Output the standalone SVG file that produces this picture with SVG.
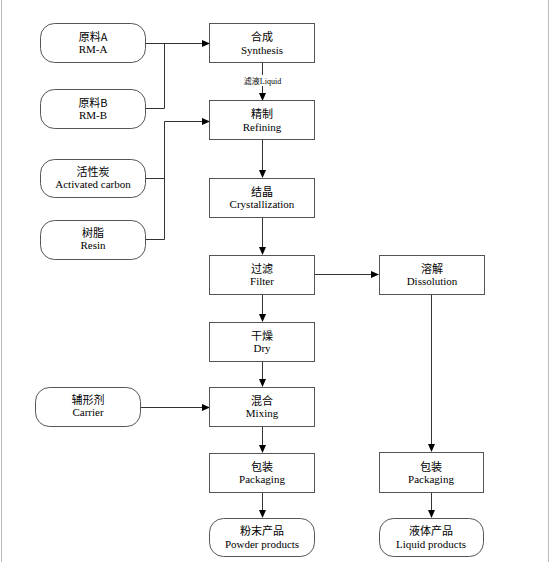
<svg xmlns="http://www.w3.org/2000/svg" width="550" height="562" viewBox="0 0 550 562">
<defs>
<marker id="ah" markerWidth="8" markerHeight="8" refX="7" refY="4" orient="auto" markerUnits="userSpaceOnUse">
<path d="M0,0.5 L8,4 L0,7.5 Z" fill="#000"/>
</marker>
</defs>
<style>
.box{fill:#fff;stroke:#555;stroke-width:1}
.t{font-family:'Liberation Serif','Noto Sans CJK SC',serif;font-size:11px;fill:#000;text-anchor:middle}
.zh{font-family:'Noto Sans CJK SC','Liberation Serif',serif;font-size:11px;fill:#000;text-anchor:middle}
.lb{font-family:'Liberation Serif','Noto Sans CJK SC',serif;font-size:8px;fill:#000;text-anchor:middle}
.c{fill:none;stroke:#333;stroke-width:1}
.a{fill:none;stroke:#333;stroke-width:1;marker-end:url(#ah)}
</style>
<rect x="0" y="0" width="550" height="562" fill="#fff"/>
<line x1="1.5" y1="0" x2="1.5" y2="562" stroke="#bbb"/>
<line x1="548.5" y1="0" x2="548.5" y2="562" stroke="#bbb"/>

<g id="connectors">
<path class="a" d="M145.5,43.5 H209"/>
<path class="c" d="M145.5,108.5 H164.5 V43.5"/>
<path class="a" d="M262.5,62.5 V100"/>
<path class="a" d="M164.5,121.5 H209"/>
<path class="c" d="M145.5,178.5 H164.5"/>
<path class="c" d="M145.5,239.5 H164.5 V121.5"/>
<path class="a" d="M262.5,139.5 V177"/>
<path class="a" d="M262.5,217.5 V254"/>
<path class="a" d="M314.5,274.5 H378"/>
<path class="a" d="M262.5,294.5 V321"/>
<path class="a" d="M262.5,361.5 V386"/>
<path class="a" d="M140.5,407.5 H209"/>
<path class="a" d="M262.5,426.5 V452"/>
<path class="a" d="M262.5,492.5 V517"/>
<path class="a" d="M431.5,294.5 V451"/>
<path class="a" d="M431.5,492.5 V517"/>
<rect x="243" y="75" width="39" height="11" fill="#fff"/>
<text class="lb" x="262.5" y="83.5">滤液Liquid</text>
</g>

<g id="rmA">
<rect class="box" x="40.5" y="23.5" width="105" height="39" rx="14"/>
<text class="zh" x="93" y="40.5">原料A</text>
<text class="t" x="93" y="53">RM-A</text>
</g>
<g id="rmB">
<rect class="box" x="40.5" y="89.5" width="105" height="39" rx="14"/>
<text class="zh" x="93" y="106.5" font-size="10">原料B</text>
<text class="t" x="93" y="118.5" font-size="10">RM-B</text>
</g>
<g id="carbon">
<rect class="box" x="40.5" y="159.5" width="105" height="38" rx="14"/>
<text class="zh" x="93" y="175.5">活性炭</text>
<text class="t" x="93" y="188">Activated carbon</text>
</g>
<g id="resin">
<rect class="box" x="40.5" y="220.5" width="105" height="39" rx="14"/>
<text class="zh" x="93" y="236.5" font-size="10">树脂</text>
<text class="t" x="93" y="248.5" font-size="10">Resin</text>
</g>
<g id="carrier">
<rect class="box" x="35.5" y="387.5" width="105" height="39" rx="14"/>
<text class="zh" x="88" y="403.5">辅形剂</text>
<text class="t" x="88" y="416">Carrier</text>
</g>

<g id="synthesis">
<rect class="box" x="209.5" y="23.5" width="105" height="39"/>
<text class="zh" x="262" y="41" font-size="12">合成</text>
<text class="t" x="262" y="54" font-size="12">Synthesis</text>
</g>
<g id="refining">
<rect class="box" x="209.5" y="100.5" width="105" height="39"/>
<text class="zh" x="262" y="118" font-size="12">精制</text>
<text class="t" x="262" y="131">Refining</text>
</g>
<g id="crystallization">
<rect class="box" x="209.5" y="178.5" width="105" height="39"/>
<text class="zh" x="262" y="195.5">结晶</text>
<text class="t" x="262" y="208">Crystallization</text>
</g>
<g id="filter">
<rect class="box" x="209.5" y="255.5" width="105" height="39"/>
<text class="zh" x="262" y="272.5">过滤</text>
<text class="t" x="262" y="285">Filter</text>
</g>
<g id="dissolution">
<rect class="box" x="379.5" y="255.5" width="105" height="39"/>
<text class="zh" x="432" y="272.5">溶解</text>
<text class="t" x="432" y="285">Dissolution</text>
</g>
<g id="dry">
<rect class="box" x="209.5" y="322.5" width="105" height="39"/>
<text class="zh" x="262" y="339.5">干燥</text>
<text class="t" x="262" y="352">Dry</text>
</g>
<g id="mixing">
<rect class="box" x="209.5" y="387.5" width="105" height="39"/>
<text class="zh" x="262" y="404.5">混合</text>
<text class="t" x="262" y="417">Mixing</text>
</g>
<g id="packaging1">
<rect class="box" x="209.5" y="453.5" width="105" height="39"/>
<text class="zh" x="262" y="470.5">包装</text>
<text class="t" x="262" y="483">Packaging</text>
</g>
<g id="powder">
<rect class="box" x="209.5" y="518.5" width="105" height="38" rx="14"/>
<text class="zh" x="262" y="535">粉末产品</text>
<text class="t" x="262" y="548">Powder products</text>
</g>
<g id="packaging2">
<rect class="box" x="379.5" y="452.5" width="104" height="40"/>
<text class="zh" x="431" y="470.5">包装</text>
<text class="t" x="431" y="483">Packaging</text>
</g>
<g id="liquid">
<rect class="box" x="379.5" y="518.5" width="104" height="38" rx="14"/>
<text class="zh" x="431" y="535">液体产品</text>
<text class="t" x="431" y="548">Liquid products</text>
</g>
</svg>
